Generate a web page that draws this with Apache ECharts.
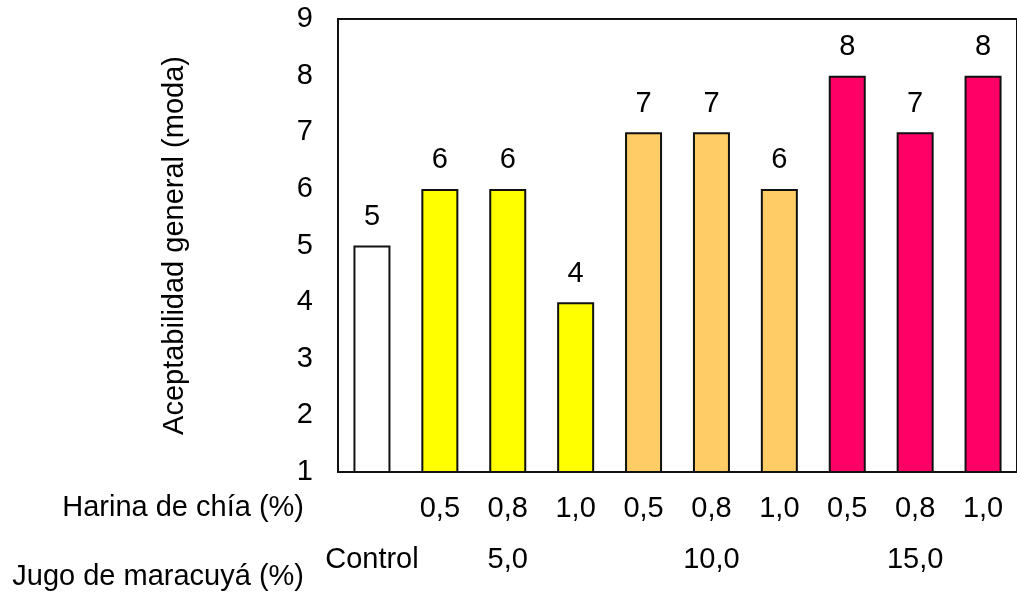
<!DOCTYPE html>
<html>
<head>
<meta charset="utf-8">
<script src="https://cdn.jsdelivr.net/npm/echarts@6/dist/echarts.min.js"></script>
<style>html,body{margin:0;padding:0;background:#fff;}#c{width:1017px;height:592px;}</style>
</head>
<body>
<div id="c"></div>
<script>
var harinaLabels = ['', '0,5', '0,8', '1,0', '0,5', '0,8', '1,0', '0,5', '0,8', '1,0'];
var jugoLabels = ['Control', '', '5,0', '', '', '10,0', '', '', '15,0', ''];
var values = [5, 6, 6, 4, 7, 7, 6, 8, 7, 8];
var barColors = ['#FFFFFF', '#FFFF00', '#FFFF00', '#FFFF00', '#FFCC66', '#FFCC66', '#FFCC66', '#FF0066', '#FF0066', '#FF0066'];
var yTitle = 'Aceptabilidad general (moda)';
var rowTitle1 = 'Harina de chía (%)';
var rowTitle2 = 'Jugo de maracuyá (%)';

var FONT = 'Liberation Sans, Arial, sans-serif';
var FS = 29;
var chart = echarts.init(document.getElementById('c'), null, {renderer: 'canvas'});
chart.setOption({
  animation: false,
  backgroundColor: '#fff',
  textStyle: {fontFamily: FONT},
  grid: {left: 338, top: 19, width: 686, height: 453, show: true, borderColor: '#111', borderWidth: 2, backgroundColor: 'transparent'},
  xAxis: [
    {
      type: 'category', data: harinaLabels, position: 'bottom',
      axisLine: {show: true, lineStyle: {color: '#111', width: 2}},
      axisTick: {show: false},
      axisLabel: {color: '#000', fontSize: FS, fontFamily: FONT, margin: 22, interval: 0}
    },
    {
      type: 'category', data: jugoLabels, position: 'bottom',
      axisLine: {show: false}, axisTick: {show: false},
      axisLabel: {color: '#000', fontSize: FS, fontFamily: FONT, margin: 73, interval: 0}
    }
  ],
  yAxis: {
    type: 'value', min: 1, max: 9, interval: 1,
    name: yTitle, nameLocation: 'middle', nameGap: 149, nameRotate: 90,
    nameTextStyle: {color: '#000', fontSize: FS, fontFamily: FONT},
    axisLine: {show: true, lineStyle: {color: '#111', width: 2}},
    axisTick: {show: false},
    splitLine: {show: false},
    axisLabel: {color: '#000', fontSize: FS, fontFamily: FONT, margin: 25}
  },
  graphic: [
    {type: 'text', right: 1017 - 304, top: 493, style: {text: rowTitle1, fontSize: FS, fontFamily: FONT, fill: '#000', textAlign: 'right'}},
    {type: 'text', right: 1017 - 304, top: 562, style: {text: rowTitle2, fontSize: FS, fontFamily: FONT, fill: '#000', textAlign: 'right'}}
  ],
  series: [{
    type: 'bar', xAxisIndex: 0,
    data: values.map(function (v, i) {
      return {value: v, itemStyle: {color: barColors[i]}};
    }),
    barWidth: 37,
    itemStyle: {borderColor: '#111', borderWidth: 2},
    label: {show: true, position: 'top', distance: 14, color: '#000', fontSize: FS, fontFamily: FONT}
  }]
});
</script>
</body>
</html>
